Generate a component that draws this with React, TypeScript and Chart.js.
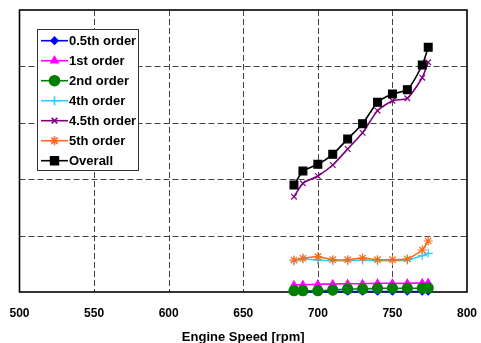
import React, { useEffect, useRef } from "react";
import { Chart, registerables } from "chart.js";
import { drawPoint } from "chart.js/helpers";

Chart.register(...registerables);

const speeds = [684, 690, 700, 710, 720, 730, 740, 750, 760, 770, 774];
const order05 = [0.01, 0.01, 0.01, 0.01, 0.01, 0.01, 0.01, 0.01, 0.01, 0.01, 0.01];
const order1 = [0.124, 0.129, 0.137, 0.142, 0.147, 0.147, 0.154, 0.154, 0.154, 0.16, 0.165];
const order2 = [0.023, 0.023, 0.023, 0.035, 0.053, 0.053, 0.066, 0.066, 0.066, 0.066, 0.07];
const order4 = [0.55, 0.585, 0.567, 0.555, 0.555, 0.567, 0.555, 0.555, 0.567, 0.644, 0.686];
const order45 = [1.69, 1.927, 2.057, 2.252, 2.535, 2.824, 3.215, 3.392, 3.434, 3.8, 4.073];
const order5 = [0.567, 0.598, 0.626, 0.573, 0.573, 0.603, 0.573, 0.573, 0.585, 0.745, 0.904];
const overall = [1.897, 2.145, 2.264, 2.441, 2.713, 2.984, 3.363, 3.511, 3.587, 4.025, 4.339];

const xTicks = [500, 550, 600, 650, 700, 750, 800];
const yTicks = [0, 1, 2, 3, 4, 5];
const xTitle = "Engine Speed [rpm]";

const seriesNames = ["0.5th order", "1st order", "2nd order", "4th order", "4.5th order", "5th order", "Overall"];
const seriesValues = [order05, order1, order2, order4, order45, order5, overall];
const seriesColors = ["#0000FF", "#FF00FF", "#008000", "#33CCFF", "#800080", "#FF6A1A", "#000000"];
const seriesStyles = ["rectRot", "triangle", "circle", "cross", "crossRot", "star", "rect"];
const seriesRadius = [3.5, 4, 5, 4.5, 4, 4.5, 5.5];

const frameBoxPlugin = {
  id: "frameBox",
  beforeDatasetsDraw(chart: any) {
    const { ctx, chartArea, scales } = chart;
    const { left, right, top, bottom } = chartArea;
    ctx.save();
    ctx.strokeStyle = "#444";
    ctx.lineWidth = 1;
    ctx.setLineDash([6, 3]);
    xTicks.forEach((v) => {
      const x = Math.round(scales.x.getPixelForValue(v)) + 0.5;
      if (x <= left + 2 || x >= right - 2) return;
      ctx.beginPath();
      ctx.moveTo(x, top);
      ctx.lineTo(x, bottom);
      ctx.stroke();
    });
    yTicks.forEach((v) => {
      const y = Math.round(scales.y.getPixelForValue(v)) + 0.5;
      if (y <= top + 2 || y >= bottom - 2) return;
      ctx.beginPath();
      ctx.moveTo(left, y);
      ctx.lineTo(right, y);
      ctx.stroke();
    });
    ctx.setLineDash([]);
    ctx.strokeStyle = "#000";
    ctx.lineWidth = 1.6;
    ctx.strokeRect(left, top, right - left, bottom - top);
    ctx.restore();
  },
};

const legendBoxPlugin = {
  id: "legendBox",
  afterDraw(chart: any) {
    const { ctx } = chart;
    ctx.save();
    ctx.fillStyle = "#fff";
    ctx.fillRect(37.5, 29.5, 101, 141);
    ctx.strokeStyle = "#333";
    ctx.lineWidth = 1;
    ctx.strokeRect(37.5, 29.5, 101, 141);
    seriesNames.forEach((name, i) => {
      const y = 40.7 + 20 * i;
      ctx.strokeStyle = seriesColors[i];
      ctx.fillStyle = seriesColors[i];
      ctx.lineWidth = 1.6;
      ctx.beginPath();
      ctx.moveTo(41, y);
      ctx.lineTo(68, y);
      ctx.stroke();
      drawPoint(ctx, { pointStyle: seriesStyles[i], radius: seriesRadius[i], rotation: 0, borderWidth: 1.2 } as any, 54.5, y);
      ctx.fillStyle = "#000";
      ctx.font = "bold 13px 'Liberation Sans', Arial, sans-serif";
      ctx.textBaseline = "middle";
      ctx.textAlign = "left";
      ctx.fillText(name, 69, y + 0.5);
    });
    ctx.restore();
  },
};

export default function App() {
  const canvasRef = useRef<HTMLCanvasElement | null>(null);

  useEffect(() => {
    const canvas = canvasRef.current;
    if (!canvas) return;
    const chart = new Chart(canvas, {
      type: "line",
      data: {
        datasets: seriesNames.map((name, i) => ({
          label: name,
          data: speeds.map((s, k) => ({ x: s, y: seriesValues[i][k] })),
          borderColor: seriesColors[i],
          backgroundColor: seriesColors[i],
          pointBackgroundColor: seriesColors[i],
          pointBorderColor: seriesColors[i],
          pointStyle: seriesStyles[i] as any,
          pointRadius: seriesRadius[i],
          pointBorderWidth: 1.2,
          borderWidth: 1.6,
          tension: 0.2,
          fill: false,
          clip: false as any,
          order: seriesNames.length - 1 - i,
        })),
      },
      options: {
        animation: false,
        responsive: true,
        maintainAspectRatio: false,
        layout: { padding: { left: 19.5, top: 10, right: 14, bottom: 0 } },
        plugins: { legend: { display: false }, tooltip: { enabled: false } },
        scales: {
          x: {
            type: "linear",
            min: 500,
            max: 800,
            afterBuildTicks: (scale: any) => {
              scale.ticks = xTicks.map((v) => ({ value: v }));
            },
            afterFit: (scale: any) => {
              scale.height = 51;
              scale.paddingLeft = 0;
              scale.paddingRight = 0;
            },
            grid: { display: false, drawTicks: false },
            border: { display: false },
            ticks: {
              color: "#000",
              padding: 14,
              maxRotation: 0,
              font: { family: "'Liberation Sans', Arial, sans-serif", size: 12, weight: "bold" },
            },
            title: {
              display: true,
              text: xTitle,
              color: "#000",
              padding: { top: 0, bottom: -2 },
              font: { family: "'Liberation Sans', Arial, sans-serif", size: 13, weight: "bold" },
            },
          },
          y: {
            type: "linear",
            min: 0,
            max: 5,
            afterBuildTicks: (scale: any) => {
              scale.ticks = yTicks.map((v) => ({ value: v }));
            },
            afterFit: (scale: any) => {
              scale.width = 0;
              scale.paddingTop = 0;
              scale.paddingBottom = 0;
            },
            ticks: { display: false },
            grid: { display: false, drawTicks: false },
            border: { display: false },
          },
        },
      },
      plugins: [frameBoxPlugin, legendBoxPlugin],
    });
    return () => chart.destroy();
  }, []);

  return (
    <div style={{ position: "fixed", left: 0, top: 0, width: 481, height: 343, background: "#fff" }}>
      <canvas ref={canvasRef} />
    </div>
  );
}
